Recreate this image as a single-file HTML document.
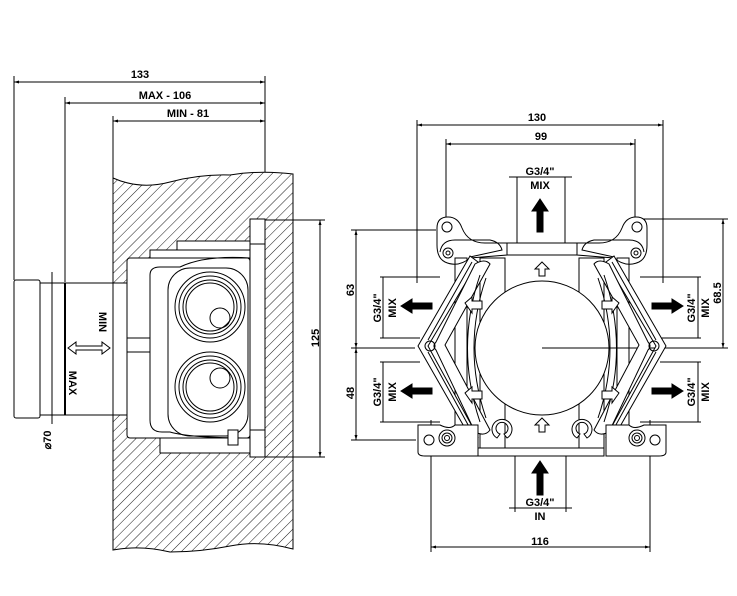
<!DOCTYPE html>
<html><head><meta charset="utf-8"><style>
html,body{margin:0;padding:0;background:#fff}
svg{display:block}
text{font-family:"Liberation Sans",Arial,sans-serif;font-weight:bold;font-size:11px;fill:#000}
</style></head><body>
<svg width="737" height="596" viewBox="0 0 737 596" xmlns="http://www.w3.org/2000/svg">
<defs>
<pattern id="h" patternUnits="userSpaceOnUse" width="7" height="7" patternTransform="rotate(45)">
<rect width="7" height="7" fill="#fff"/><line x1="0" y1="0" x2="0" y2="7" stroke="#000" stroke-width="0.9"/>
</pattern>
<marker id="a" viewBox="0 0 10 10" refX="10" refY="5" markerWidth="8" markerHeight="5" orient="auto-start-reverse"><path d="M0,2 L10,5 L0,8 z" fill="#000"/></marker>
</defs>
<g fill="none" stroke="#000" stroke-width="1">
<line x1="14" y1="82" x2="265" y2="82" marker-start="url(#a)" marker-end="url(#a)"/>
<line x1="65" y1="103" x2="265" y2="103" marker-start="url(#a)" marker-end="url(#a)"/>
<line x1="113" y1="121" x2="265" y2="121" marker-start="url(#a)" marker-end="url(#a)"/>
<line x1="14" y1="76" x2="14" y2="280"/>
<line x1="65" y1="97" x2="65" y2="282"/>
<line x1="113" y1="116" x2="113" y2="178"/>
<line x1="265" y1="76" x2="265" y2="222"/>
<path d="M113,178 Q140,190 170,182 T230,175 Q260,170 293,174 L293,549 Q260,540 230,546 T170,552 Q140,545 113,550 Z" fill="url(#h)"/>
<rect x="14" y="280" width="26" height="138" fill="#fff" rx="2"/>
<rect x="40" y="283" width="73" height="132" fill="#fff"/>
<line x1="65" y1="283" x2="65" y2="415" stroke-width="2"/>
<rect x="113" y="283" width="14" height="132" fill="#fff"/>
<line x1="52" y1="272" x2="52" y2="424"/>
<rect x="177" y="241" width="73" height="17" fill="#fff"/>
<rect x="150" y="250" width="100" height="8" fill="#fff"/>
<rect x="160" y="438" width="90" height="15" fill="#fff"/>
<rect x="127" y="258" width="123" height="180" fill="#fff" rx="3"/>
<path d="M150,275 L150,420 Q150,432 162,432 L170,432 Q190,438 250,438"/>
<path d="M150,275 Q150,267 160,267 L180,267 Q205,255 250,258"/>
<rect x="168" y="268" width="80" height="168" rx="22"/>
<line x1="127" y1="338" x2="150" y2="338"/><line x1="127" y1="352" x2="150" y2="352"/>
<rect x="250" y="219" width="15" height="238" fill="#fff"/>
<line x1="250" y1="244" x2="265" y2="244"/><line x1="250" y1="430" x2="265" y2="430"/>
<rect x="228" y="430" width="10" height="15" fill="#fff"/>
<g><circle cx="210" cy="307" r="35"/><circle cx="210" cy="307" r="31"/><circle cx="210" cy="307" r="27"/><circle cx="210" cy="307" r="24"/><circle cx="220" cy="318" r="10"/></g>
<g><circle cx="210" cy="387" r="35"/><circle cx="210" cy="387" r="31"/><circle cx="210" cy="387" r="27"/><circle cx="210" cy="387" r="24"/><circle cx="220" cy="378" r="10"/></g>
<line x1="265" y1="220" x2="325" y2="220"/><line x1="265" y1="457" x2="325" y2="457"/>
<line x1="320" y1="220" x2="320" y2="457" marker-start="url(#a)" marker-end="url(#a)"/>
<path d="M68,348 L76,342 L76,346 L102,346 L102,342 L110,348 L102,354 L102,350 L76,350 L76,354 Z" fill="#fff"/>

<line x1="417" y1="125" x2="663" y2="125" marker-start="url(#a)" marker-end="url(#a)"/>
<line x1="446" y1="144" x2="635" y2="144" marker-start="url(#a)" marker-end="url(#a)"/>
<line x1="417" y1="120" x2="417" y2="283"/><line x1="663" y1="120" x2="663" y2="283"/>
<line x1="446" y1="139" x2="446" y2="222"/><line x1="635" y1="139" x2="635" y2="222"/>
<line x1="509" y1="177" x2="572" y2="177"/>
<line x1="517" y1="177" x2="517" y2="243"/><line x1="565" y1="177" x2="565" y2="243"/>
<line x1="509" y1="508" x2="572" y2="508"/>
<line x1="515" y1="455" x2="515" y2="512"/><line x1="566" y1="455" x2="566" y2="512"/>
<line x1="431" y1="547" x2="650" y2="547" marker-start="url(#a)" marker-end="url(#a)"/>
<line x1="431" y1="420" x2="431" y2="552"/><line x1="650" y1="420" x2="650" y2="552"/>
<line x1="356" y1="230" x2="356" y2="348" marker-start="url(#a)" marker-end="url(#a)"/>
<line x1="356" y1="348" x2="356" y2="440" marker-start="url(#a)" marker-end="url(#a)"/>
<line x1="351" y1="230" x2="436" y2="230"/><line x1="351" y1="440" x2="416" y2="440"/>
<line x1="351" y1="348" x2="415" y2="348"/>
<line x1="542" y1="348" x2="728" y2="348"/>
<line x1="723" y1="219" x2="723" y2="348" marker-start="url(#a)" marker-end="url(#a)"/>
<line x1="640" y1="219" x2="728" y2="219"/>
<line x1="383" y1="277" x2="383" y2="338"/><line x1="380" y1="277" x2="440" y2="277"/><line x1="380" y1="338" x2="420" y2="338"/>
<line x1="383" y1="362" x2="383" y2="422"/><line x1="380" y1="362" x2="420" y2="362"/><line x1="380" y1="422" x2="440" y2="422"/>
<line x1="698" y1="277" x2="698" y2="338"/><line x1="640" y1="277" x2="701" y2="277"/><line x1="660" y1="338" x2="701" y2="338"/>
<line x1="698" y1="362" x2="698" y2="422"/><line x1="660" y1="362" x2="701" y2="362"/><line x1="640" y1="422" x2="701" y2="422"/>
<rect x="507" y="243" width="70" height="12" fill="#fff"/>
<rect x="478" y="448" width="126" height="8" fill="#fff"/>
<g id="half">
<path d="M437,245 L437,228 Q437,217 448,217 Q458,217 462,228 Q468,243 485,243 L507,243 L507,255 L470,258 Q458,268 445,262 Q437,258 437,245 Z" fill="#fff"/>
<path d="M440,252 Q442,240 455,240 L490,240 Q500,242 502,250 L470,257" />
<circle cx="447" cy="227" r="5"/><circle cx="448" cy="253" r="5"/><circle cx="448" cy="253" r="2"/>
<rect x="455" y="258" width="12" height="180"/>
<rect x="480" y="258" width="25" height="190"/>
<path d="M470,256 L418,346 L470,437 L478,437 L428,346 L478,262 Z" fill="#fff"/>
<path d="M472,262 L428,340 M472,432 L428,352"/>
<path d="M475,264 Q485,258 490,264 L445,345 L490,430 Q485,437 475,432 L436,350 Q432,346 436,342 Z" fill="#fff"/>
<path d="M480,275 Q455,348 480,422 M486,278 Q462,348 486,418"/>
<circle cx="430" cy="346" r="5"/>
<path d="M418,425 L418,452 Q418,456 425,456 L478,456 L478,425 L455,425 Q450,430 440,425 Z" fill="#fff"/>
<circle cx="429" cy="440" r="5"/>
<circle cx="447" cy="438" r="8"/><circle cx="447" cy="438" r="5"/><circle cx="447" cy="438" r="2.5"/>
<path d="M497,438 A10,10 0 1,1 507,438 L504,434 A6,6 0 1,0 500,434 Z" fill="#fff"/>
<path d="M465,303 L472,297 L472,301 L482,301 L482,309 L472,309 L472,313 Z" fill="#fff"/>
<path d="M465,393 L472,387 L472,391 L482,391 L482,399 L472,399 L472,403 Z" fill="#fff"/>
<path d="M401,306 L412,299 L412,303 L432,303 L432,309 L412,309 L412,313 Z" fill="#000"/>
<path d="M401,391 L412,384 L412,388 L432,388 L432,394 L412,394 L412,398 Z" fill="#000"/>
</g>
<use href="#half" transform="translate(1084,0) scale(-1,1)"/>
<circle cx="542" cy="348" r="67" fill="#fff"/>
<line x1="542" y1="348" x2="610" y2="348"/>
<path d="M542,262 L549,269 L545,269 L545,276 L539,276 L539,269 L535,269 Z" fill="#fff"/>
<path d="M542,418 L549,425 L545,425 L545,432 L539,432 L539,425 L535,425 Z" fill="#fff"/>
<path d="M540,199 L548,211 L543,211 L543,232 L537,232 L537,211 L532,211 Z" fill="#000"/>
<path d="M540,461 L548,473 L543,473 L543,495 L537,495 L537,473 L532,473 Z" fill="#000"/>
</g>
<text x="140" y="78" text-anchor="middle">133</text>
<text x="165" y="99" text-anchor="middle">MAX  -  106</text>
<text x="188" y="117" text-anchor="middle">MIN  -  81</text>
<text transform="translate(99,322) rotate(90)" text-anchor="middle">MIN</text>
<text transform="translate(69,383) rotate(90)" text-anchor="middle">MAX</text>
<text transform="translate(51,440) rotate(-90)" text-anchor="middle">⌀70</text>
<text transform="translate(319,338) rotate(-90)" text-anchor="middle">125</text>
<text x="537" y="121" text-anchor="middle">130</text>
<text x="541" y="140" text-anchor="middle">99</text>
<text x="540" y="175" text-anchor="middle">G3/4"</text>
<text x="540" y="189" text-anchor="middle">MIX</text>
<text x="540" y="506" text-anchor="middle">G3/4"</text>
<text x="540" y="520" text-anchor="middle">IN</text>
<text x="540" y="545" text-anchor="middle">116</text>
<text transform="translate(354,290) rotate(-90)" text-anchor="middle">63</text>
<text transform="translate(354,393) rotate(-90)" text-anchor="middle">48</text>
<text transform="translate(721,293) rotate(-90)" text-anchor="middle">68.5</text>
<g font-size="10">
<text transform="translate(381,308) rotate(-90)" text-anchor="middle">G3/4"</text>
<text transform="translate(396,308) rotate(-90)" text-anchor="middle">MIX</text>
<text transform="translate(381,392) rotate(-90)" text-anchor="middle">G3/4"</text>
<text transform="translate(396,392) rotate(-90)" text-anchor="middle">MIX</text>
<text transform="translate(695,308) rotate(-90)" text-anchor="middle">G3/4"</text>
<text transform="translate(709,308) rotate(-90)" text-anchor="middle">MIX</text>
<text transform="translate(695,392) rotate(-90)" text-anchor="middle">G3/4"</text>
<text transform="translate(709,392) rotate(-90)" text-anchor="middle">MIX</text>
</g>
</svg>
</body></html>
